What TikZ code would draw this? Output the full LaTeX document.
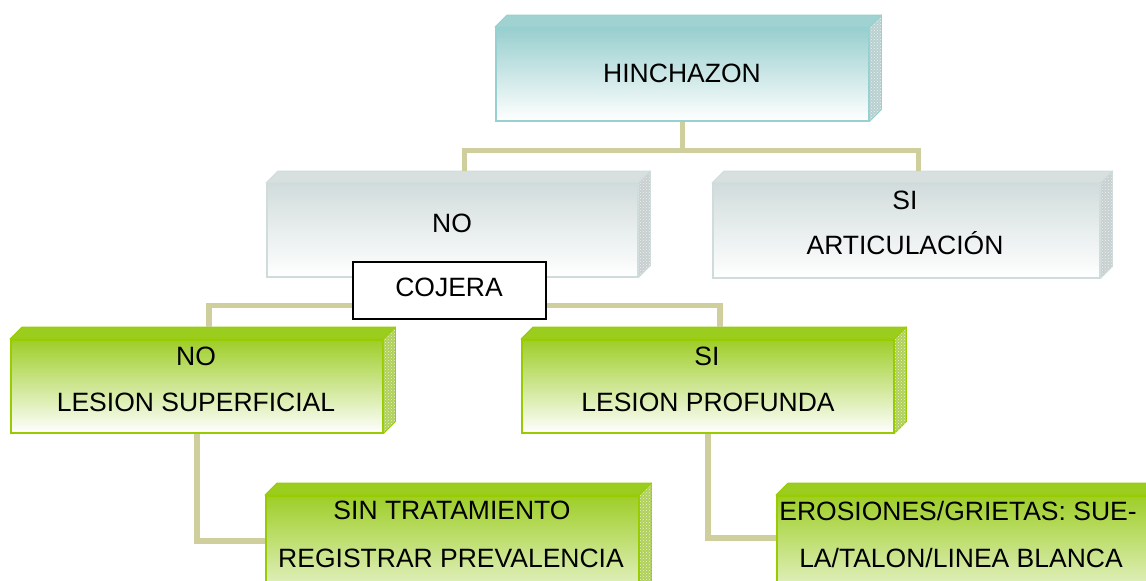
\documentclass[tikz,border=0pt]{standalone}
\usepackage{fontspec}
\setmainfont{Liberation Sans}
\usetikzlibrary{calc,patterns}
\definecolor{conncol}{RGB}{207,207,158}
\definecolor{tealtop}{RGB}{152,206,206}
\definecolor{tealbd}{RGB}{150,208,208}
\definecolor{tealface}{RGB}{160,210,210}
\definecolor{tealside}{RGB}{185,208,208}
\definecolor{greytop}{RGB}{210,220,220}
\definecolor{greybd}{RGB}{208,220,220}
\definecolor{greyface}{RGB}{215,223,223}
\definecolor{greyside}{RGB}{200,207,207}
\definecolor{greentop}{RGB}{158,206,40}
\definecolor{greenbd}{RGB}{153,204,0}
\definecolor{greenface}{RGB}{155,205,30}
\definecolor{greenside}{RGB}{175,208,90}
\tikzset{
  conn/.style={draw=conncol, line width=5.5pt},
  front/.style={draw=#1bd, line width=1.5pt, top color=#1top, middle color=#1top!35!white, bottom color=white, inner sep=0pt, anchor=north west},
  topface/.style={fill=#1face, draw=#1bd, line width=1pt, line join=round},
  sideface/.style={fill=#1side, draw=#1bd, line width=0.8pt, line join=round},
  sidetex/.style={pattern=crosshatch dots, pattern color=white!70!#1side},
  lbl/.style={font=\fontsize{26.5}{30}\selectfont, inner sep=0pt, anchor=base},
  cojbox/.style={draw=black, line width=1.5pt, fill=white, inner sep=0pt, anchor=north west},
}
\newcommand\slab[6]{%
  \node[front=#2, minimum width={#5pt-#3pt}, minimum height={#6pt-#4pt}] (#1) at (#3,#4) {};
  \filldraw[topface=#2] (#1.north west) -- ++(12,-12) -- ($(#1.north east)+(12,-12)$) -- (#1.north east) -- cycle;
  \filldraw[sideface=#2] (#1.north east) -- ++(12,-12) -- ($(#1.south east)+(12,-12)$) -- (#1.south east) -- cycle;
  \fill[sidetex=#2] (#1.north east) -- ++(12,-12) -- ($(#1.south east)+(12,-12)$) -- (#1.south east) -- cycle;
}
\begin{document}
\begin{tikzpicture}[x=1pt, y=-1pt]
\useasboundingbox (0,0) rectangle (1146,581);
\fill[white] (0,0) rectangle (1146,581);
\clip (0,0) rectangle (1146,581);

\slab{hinch}{teal}{495}{27}{868}{120}
\slab{no}{grey}{266}{183}{637}{276}
\slab{si}{grey}{712}{183}{1099}{277}
\slab{gno}{green}{10}{339}{382}{432}
\slab{gsi}{green}{521}{339}{893}{432}
\slab{sin}{green}{265}{495}{638}{625}
\slab{ero}{green}{776}{495}{1170}{625}

\draw[conn] (hinch.south) -- ++(0,29) coordinate (hj);
\draw[conn] ($(no.north)+(12,-12)$) |- (hj) -| ($(si.north)+(12,-12)$);
\draw[conn] ($(gno.north)+(12,-12)$) |- ($(no.south)+(0,28)$) coordinate (cl);
\draw[conn] ($(gsi.north)+(12,-12)$) |- (cl);
\node[cojbox, minimum width=193pt, minimum height=57pt] (coj) at (352,261) {};
\draw[conn] (gno.south) |- ($(sin.north west)+(0,46)$);
\draw[conn] (gsi.south) |- ($(ero.north west)+(0,43)$);

\node[lbl] (t1) at (682,82) {HINCHAZON};
\node[lbl] (t2) at (452,232) {NO};
\node[lbl] (t3) at (905,209) {SI};
\node[lbl] (t4) at (905,254) {ARTICULACIÓN};
\node[lbl] (t5) at (449,296) {COJERA};
\node[lbl] (t6) at (196,365) {NO};
\node[lbl] (t7) at (196,411) {LESION SUPERFICIAL};
\node[lbl] (t8) at (707,365) {SI};
\node[lbl] (t9) at (708,411) {LESION PROFUNDA};
\node[lbl] (t10) at (452,519) {SIN TRATAMIENTO};
\node[lbl] (t11) at (451,567) {REGISTRAR PREVALENCIA};
\node[lbl] (t12) at (958,520) {EROSIONES/GRIETAS: SUE-};
\node[lbl] (t13) at (961,567) {LA/TALON/LINEA BLANCA};
\end{tikzpicture}
\end{document}
